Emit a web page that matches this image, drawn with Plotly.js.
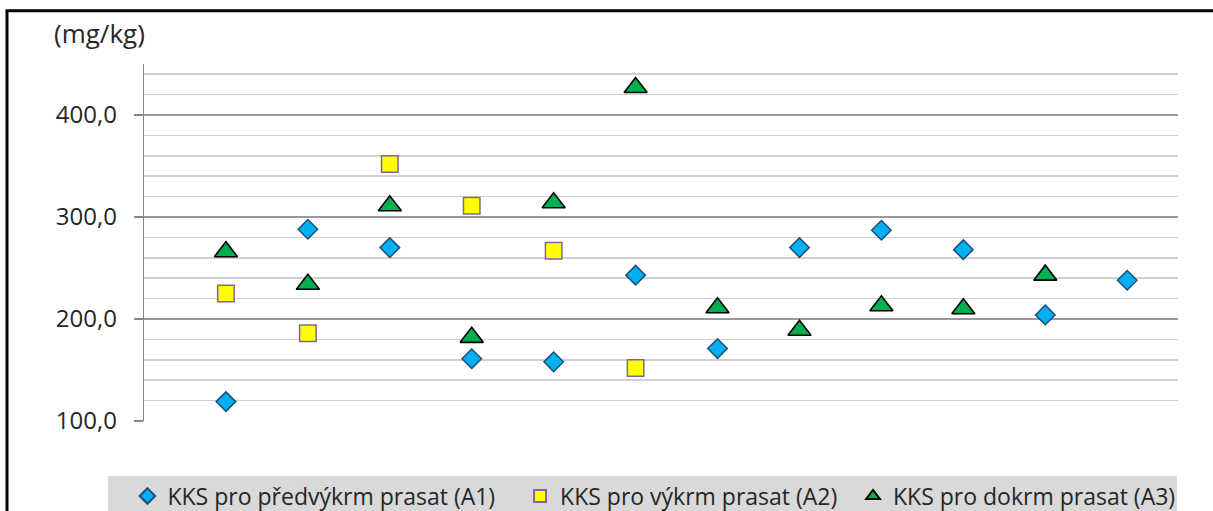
<!DOCTYPE html>
<html>
<head>
<meta charset="utf-8">
<script src="https://cdn.plot.ly/plotly-3.0.1.min.js"></script>
<style>
  html, body { margin: 0; padding: 0; background: #ffffff; }
  #chart { width: 1213px; height: 511px; }
</style>
</head>
<body>
<div id="chart"></div>
<script>
// Sample positions (1..12)
const positions = [1, 2, 3, 4, 5, 6, 7, 8, 9, 10, 11, 12];

// Series names
const seriesNames = [
  "KKS pro předvýkrm prasat (A1)",
  "KKS pro výkrm prasat (A2)",
  "KKS pro dokrm prasat (A3)"
];

// Values (mg/kg)
const valuesA1 = [119, 288, 270, 161, 158, 243, 171, 270, 287, 268, 204, 238];
const valuesA2 = [225, 186, 352, 311, 267, 152];
const valuesA3 = [266, 234, 311, 182, 314, 427, 211, 189, 213, 210, 243];

// Axis texts
const yUnit = "(mg/kg)";

const font = "'Open Sans', 'Noto Sans', sans-serif";

const traces = [
  {
    type: "scatter", mode: "markers", name: seriesNames[0], legend: "legend",
    x: positions.slice(0, valuesA1.length), y: valuesA1,
    marker: { symbol: "diamond", size: 15, color: "#00B0F0", line: { color: "#1F4E79", width: 1.5 } }
  },
  {
    type: "scatter", mode: "markers", name: seriesNames[1], legend: "legend2",
    x: positions.slice(0, valuesA2.length), y: valuesA2,
    marker: { symbol: "square", size: 16.5, color: "#FFFF00", line: { color: "#8064A2", width: 1.5 } }
  },
  {
    type: "scatter", mode: "markers", name: seriesNames[2], legend: "legend3",
    x: positions.slice(0, valuesA3.length), y: valuesA3,
    marker: { symbol: "triangle-up", size: 20, color: "#00B050", line: { color: "#000000", width: 1.6 } }
  }
];

function legendAt(x) {
  return {
    orientation: "h", x: x, xanchor: "left", y: -0.21, yanchor: "middle",
    bgcolor: "rgba(0,0,0,0)", font: { family: font, size: 23, color: "#262626" },
    itemsizing: "constant"
  };
}

const layout = {
  width: 1213, height: 511,
  margin: { l: 144, r: 35, t: 64, b: 90, autoexpand: false },
  paper_bgcolor: "#ffffff", plot_bgcolor: "#ffffff",
  separators: ", ",
  font: { family: font, size: 24, color: "#404040" },
  showlegend: true,
  xaxis: {
    range: [0, 12.62], showgrid: false, zeroline: false, showline: false,
    showticklabels: false, ticks: ""
  },
  yaxis: {
    range: [100, 450], tick0: 0, dtick: 100, tickformat: ".1f",
    showgrid: true, gridcolor: "#9a9a9a", gridwidth: 1.3,
    minor: { dtick: 20, tick0: 0, showgrid: true, gridcolor: "#d0d0d0", gridwidth: 1.5 },
    zeroline: false, showline: true, linecolor: "#868686", linewidth: 1.3,
    ticks: "outside", ticklen: 9, tickcolor: "#868686", tickwidth: 1.3,
    ticklabelstandoff: 12,
    tickfont: { family: font, size: 24, color: "#262626" }
  },
  legend: legendAt(-0.016),
  legend2: legendAt(0.3637),
  legend3: legendAt(0.6857),
  shapes: [
    { type: "rect", xref: "paper", yref: "paper", x0: -0.0348, x1: 0.999, y0: -0.154, y1: -0.4,
      fillcolor: "#d9d9d9", line: { width: 0 }, layer: "below" },
    { type: "rect", xref: "paper", yref: "paper", x0: -0.1325, x1: 1.2, y0: -0.6, y1: 1.149,
      fillcolor: "rgba(0,0,0,0)", line: { color: "#000000", width: 3 }, layer: "above" }
  ],
  annotations: [
    { text: yUnit, xref: "paper", yref: "paper", x: -0.0435, y: 1.088, xanchor: "center", yanchor: "middle",
      showarrow: false, font: { family: font, size: 26, color: "#262626" } }
  ]
};

Plotly.newPlot("chart", traces, layout, { staticPlot: true, displayModeBar: false });
</script>
</body>
</html>
